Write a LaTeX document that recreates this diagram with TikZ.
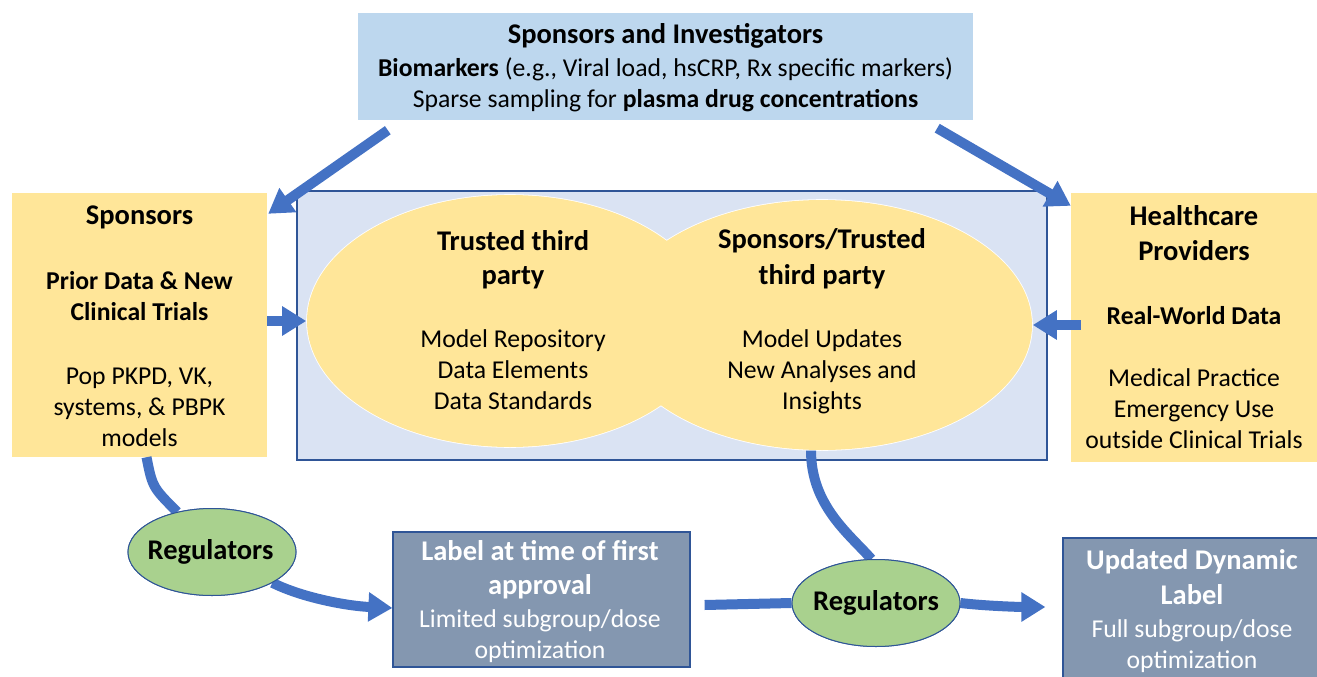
\documentclass[tikz,border=0pt]{standalone}
\usepackage{fontspec}
\setmainfont{Carlito}
\usetikzlibrary{arrows.meta,shapes.geometric,calc}
\definecolor{topblue}{HTML}{BDD7EE}
\definecolor{ylw}{HTML}{FFE699}
\definecolor{panel}{HTML}{DAE3F3}
\definecolor{edge}{HTML}{2F5597}
\definecolor{grn}{HTML}{A9D18E}
\definecolor{slate}{HTML}{8497B0}
\definecolor{arr}{HTML}{4472C4}
\newcommand\bodyfont{\fontsize{25.7}{31}\selectfont}
\newcommand\headfont{\fontsize{28.5}{31}\selectfont\bfseries}
\begin{document}
\begin{tikzpicture}[x=1pt,y=-1pt,
  txt/.style={align=center,inner sep=0pt,font=\bodyfont},
  wtxt/.style={txt,text=white},
  plainbox/.style={rectangle,inner sep=0pt,fill=#1},
  panelbox/.style={rectangle,inner sep=0pt,draw=edge,line width=1.2pt,fill=panel},
  slatebox/.style={rectangle,inner sep=0pt,draw=edge,line width=1.2pt,fill=slate},
  bigell/.style={ellipse,inner sep=0pt},
  regell/.style={ellipse,inner sep=0pt,draw=edge,line width=1pt,fill=grn,minimum width=168pt,minimum height=87pt},
  flow/.style={draw=arr,line width=10pt},
  flowarrow/.style={flow,-{Triangle[length=24pt,width=28pt]}}]
\useasboundingbox (0,0) rectangle (1317,677);

% central panel
\node[panelbox,minimum width=750pt,minimum height=269pt] (panel) at (672,325.5) {};
% overlapping ellipses: borders first, then fills
\node[bigell,draw=white,line width=1.6pt,minimum width=406pt,minimum height=252pt] (ell1) at (510,321) {};
\node[bigell,draw=white,line width=1.6pt,minimum width=420pt,minimum height=250pt] (ell2) at (822,325) {};
\fill[ylw] (ell1.center) ellipse [x radius=203pt,y radius=126pt];
\fill[ylw] (ell2.center) ellipse [x radius=210pt,y radius=125pt];
\node[txt] (ell1txt) at (513,320) {{\headfont Trusted third}\\[3pt]{\headfont party}\\[32pt]Model Repository\\Data Elements\\Data Standards};
\node[txt] (ell2txt) at (822,321.5) {{\headfont Sponsors/Trusted}\\[5pt]{\headfont third party}\\[32pt]Model Updates\\New Analyses and\\Insights};

% top box
\node[plainbox=topblue,minimum width=615pt,minimum height=107pt] (top) at (665.5,66.5) {};
\node[txt] (toptxt) at (665.5,68) {{\headfont Sponsors and Investigators}\\[2pt]\textbf{Biomarkers} (e.g., Viral load, hsCRP, Rx specific markers)\\Sparse sampling for \textbf{plasma drug concentrations}};

% side boxes
\node[plainbox=ylw,minimum width=255pt,minimum height=264pt] (spons) at (139.5,325) {};
\node[txt] (sponstxt) at (139.5,326) {{\headfont Sponsors}\\[34pt]\textbf{Prior Data \& New}\\\textbf{Clinical Trials}\\[33pt]Pop PKPD, VK,\\systems, \& PBPK\\models};
\node[plainbox=ylw,minimum width=246pt,minimum height=269pt] (hc) at (1194,327.5) {};
\node[txt] (hctxt) at (1194,327.5) {{\headfont Healthcare}\\[4pt]{\headfont Providers}\\[33pt]\textbf{Real-World Data}\\[31pt]Medical Practice\\Emergency Use\\outside Clinical Trials};

% bottom boxes
\node[slatebox,minimum width=297pt,minimum height=135pt] (lab) at (541.5,599.5) {};
\node[wtxt] (labtxt) at (540,602) {{\headfont Label at time of first}\\[3pt]{\headfont approval}\\[2pt]Limited subgroup/dose\\optimization};
\node[slatebox,minimum width=267pt,minimum height=152pt] (upd) at (1196.5,614) {};
\node[wtxt] (updtxt) at (1192,611.5) {{\headfont Updated Dynamic}\\[4pt]{\headfont Label}\\[2pt]Full subgroup/dose\\optimization};

% arrows from the top box
\draw[flowarrow] ($(top.south west)+(30,10)$) -- ($(spons.north east)+(1,21)$);
\draw[flowarrow] ($(top.south east)+(-36,8)$) -- ($(hc.north west)+(0,13)$);
% side arrows into ellipses
\draw[flowarrow] (spons.east |- ell1.west) -- (ell1.west);
\draw[flowarrow] ($(hc.west |- ell2.east)+(10,0)$) -- (ell2.east);

% regulators
\node[regell] (reg1) at (212,552) {};
\node[regell] (reg2) at (876,603) {};
\draw[flow] ($(spons.south)+(7,0)$) .. controls +(6,30) .. (reg1.131);
\draw[flowarrow] (reg1.-27) .. controls +(30,15) and +(-45,-2) .. ($(lab.west)+(0,8.5)$);
\draw[flow] (ell2.-95) .. controls +(0,55) and +(-22,-25) .. (reg2.96);
\draw[flow] ($(lab.east)+(14,5.5)$) -- (reg2.west);
\draw[flowarrow] (reg2.east) .. controls +(25,3) and +(-25,0) .. ($(upd.west)+(-17,-7)$);
\node[regell] (reg1b) at (reg1.center) {};
\node[regell] (reg2b) at (reg2.center) {};
\node[txt,font=\headfont] (reg1txt) at (210.5,552) {Regulators};
\node[txt,font=\headfont] (reg2txt) at (876,603) {Regulators};
\end{tikzpicture}
\end{document}
